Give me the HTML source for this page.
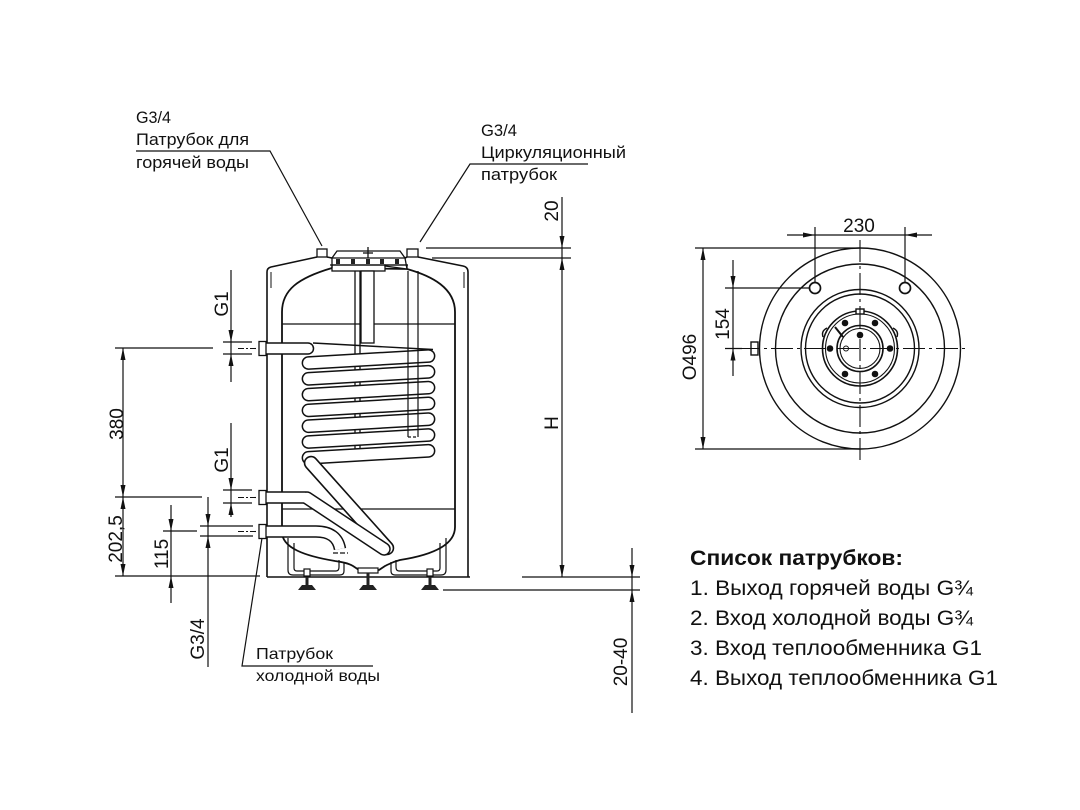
<!DOCTYPE html>
<html><head><meta charset="utf-8"><style>
html,body{margin:0;padding:0;background:#fff;}
svg{display:block;}
text{font-family:"Liberation Sans",Arial,sans-serif;fill:#111;}
</style></head><body>
<svg width="1080" height="810" viewBox="0 0 1080 810" xmlns="http://www.w3.org/2000/svg">
<rect width="1080" height="810" fill="#fff"/>

<!-- ===== TOP LABELS ===== -->
<g font-size="17">
<text x="136" y="123" textLength="35" lengthAdjust="spacingAndGlyphs">G3/4</text>
<text x="136" y="145" textLength="113" lengthAdjust="spacingAndGlyphs">Патрубок для</text>
<text x="136" y="168" textLength="113" lengthAdjust="spacingAndGlyphs">горячей воды</text>
<text x="481" y="136" textLength="36" lengthAdjust="spacingAndGlyphs">G3/4</text>
<text x="481" y="158" textLength="145" lengthAdjust="spacingAndGlyphs">Циркуляционный</text>
<text x="481" y="180" textLength="76" lengthAdjust="spacingAndGlyphs">патрубок</text>
</g>
<g stroke="#111" stroke-width="1.2" fill="none">
<polyline points="136,151 270,151 322,246"/>
<polyline points="588,164 470,164 420,242"/>
</g>

<!-- ===== TANK ===== -->
<g stroke="#111" fill="none" stroke-width="1.6" stroke-linejoin="round">
<path d="M267,577 L267,272 Q267,268 271,267 L317,257"/>
<path d="M418,257 L463,266 Q468,267 468,272 L468,577"/>
<line x1="267" y1="577" x2="470" y2="577"/>
<line x1="271" y1="272" x2="271" y2="288" stroke-width="1"/>
<line x1="464" y1="272" x2="464" y2="288" stroke-width="1"/>
<line x1="327" y1="257" x2="332" y2="258"/>
<line x1="405" y1="258" x2="407" y2="257"/>
<path d="M282,532 L282,312 C282,290 298,278 332,268 L407,269 C432,276 455,288 455,312 L455,527 C455,545 432,555 400,560 C392,562 389,564 385,566 L379,570 L359,570 L353,566 C348,563 342,562 335,561 C305,556 282,548 282,532 Z" stroke-width="1.8"/>
<line x1="282" y1="324" x2="455" y2="324" stroke-width="1.3"/>
<line x1="282" y1="509" x2="455" y2="509" stroke-width="1.3"/>
</g>

<!-- cover at top -->
<g stroke="#111" stroke-width="1.3" fill="#fff">
<path d="M332,258 L337,251 L400,251 L405,258 Z"/>
<rect x="332" y="265" width="53" height="6"/>
<path d="M385,266 L407,269 L407,265 L385,265 Z"/>
<line x1="330" y1="265" x2="408" y2="265"/>
<line x1="332" y1="258" x2="332" y2="268"/>
<line x1="405" y1="258" x2="407" y2="269"/>
<rect x="317" y="249" width="10" height="8"/>
<rect x="407" y="249" width="11" height="8"/>
<line x1="368" y1="247" x2="368" y2="258"/>
<line x1="363" y1="253" x2="373" y2="253"/>
</g>
<g fill="#222">
<rect x="336" y="259" width="4" height="5"/>
<rect x="351" y="259" width="4" height="5"/>
<rect x="366" y="259" width="4" height="5"/>
<rect x="380" y="259" width="4" height="5"/>
<rect x="395" y="259" width="4" height="5"/>
</g>

<!-- rods behind coils -->
<g stroke="#111" stroke-width="1.3" fill="none">
<line x1="355" y1="271" x2="355" y2="460"/>
<line x1="360" y1="271" x2="360" y2="460"/>
<rect x="361" y="271" width="13" height="72" fill="#fff"/>
</g>

<line x1="313" y1="343" x2="433" y2="349.5" stroke="#111" stroke-width="1.4"/>

<!-- coils -->
<g stroke-linecap="round" fill="none">
<g stroke="#111" stroke-width="13.8">
<line x1="308.5" y1="363" x2="428.5" y2="356"/>
<line x1="308.5" y1="378.8" x2="428.5" y2="371.8"/>
<line x1="308.5" y1="394.6" x2="428.5" y2="387.6"/>
<line x1="308.5" y1="410.4" x2="428.5" y2="403.4"/>
<line x1="308.5" y1="426.2" x2="428.5" y2="419.2"/>
<line x1="308.5" y1="442" x2="428.5" y2="435"/>
<line x1="308.5" y1="457.8" x2="428.5" y2="450.8"/>
</g>
<g stroke="#fff" stroke-width="10.8">
<line x1="308.5" y1="363" x2="428.5" y2="356"/>
<line x1="308.5" y1="378.8" x2="428.5" y2="371.8"/>
<line x1="308.5" y1="394.6" x2="428.5" y2="387.6"/>
<line x1="308.5" y1="410.4" x2="428.5" y2="403.4"/>
<line x1="308.5" y1="426.2" x2="428.5" y2="419.2"/>
<line x1="308.5" y1="442" x2="428.5" y2="435"/>
<line x1="308.5" y1="457.8" x2="428.5" y2="450.8"/>
</g>
<line x1="311" y1="463" x2="387" y2="548" stroke="#111" stroke-width="14.5"/>
<line x1="311" y1="463" x2="387" y2="548" stroke="#fff" stroke-width="11.3"/>
<line x1="265" y1="348.5" x2="308" y2="348.5" stroke="#111" stroke-width="12.5"/>
<line x1="265" y1="348.5" x2="308" y2="348.5" stroke="#fff" stroke-width="9.5"/>
<line x1="265" y1="497.5" x2="305" y2="497.5" stroke="#111" stroke-width="12.5"/>
<line x1="307" y1="498" x2="384" y2="549" stroke="#111" stroke-width="13.5"/>
<line x1="265" y1="497.5" x2="305" y2="497.5" stroke="#fff" stroke-width="9.5"/>
<line x1="307" y1="498" x2="384" y2="549" stroke="#fff" stroke-width="10.5"/>
<path d="M265,531.5 L316,531.5 Q337,531.5 340,549" stroke="#111" stroke-width="12.5" stroke-linecap="butt"/>
<path d="M265,531.5 L316,531.5 Q337,531.5 340,549" stroke="#fff" stroke-width="9.5" stroke-linecap="butt"/>
</g>
<line x1="333" y1="553" x2="348" y2="553" stroke="#111" stroke-width="1.3" stroke-dasharray="5 2"/>

<g stroke="#111" stroke-width="1.2" fill="none">
<line x1="408" y1="271" x2="408" y2="437"/>
<line x1="418" y1="271" x2="418" y2="437"/>
<line x1="408" y1="437" x2="418" y2="437" stroke-dasharray="3 2"/>
</g>

<g stroke="#111" stroke-width="1.3" fill="#fff">
<rect x="259" y="341.5" width="7" height="14"/>
<rect x="259" y="490.5" width="7" height="14"/>
<rect x="259" y="524.5" width="7" height="14"/>
</g>
<g stroke="#111" stroke-width="1.1" stroke-dasharray="6 2 2 2">
<line x1="238" y1="348.5" x2="258" y2="348.5"/>
<line x1="238" y1="497.5" x2="258" y2="497.5"/>
<line x1="238" y1="531.5" x2="258" y2="531.5"/>
</g>

<!-- skirts & feet -->
<g stroke="#111" stroke-width="1.2" fill="none">
<path d="M288,538 L288,570 Q288,575 293,575 L340,575 Q344,575 344,571 L344,562"/>
<path d="M294,543 L294,568 Q294,571 297,571 L336,571 Q339,571 339,567 L339,560"/>
<path d="M446,538 L446,570 Q446,575 441,575 L395,575 Q391,575 391,571 L391,562"/>
<path d="M440,543 L440,568 Q440,571 437,571 L399,571 Q396,571 396,567 L396,560"/>
<rect x="358" y="568" width="20" height="5" fill="#fff"/>
<rect x="304" y="569" width="6" height="7" fill="#fff"/>
<rect x="427" y="569" width="6" height="7" fill="#fff"/>
</g>
<g fill="#222">
<rect x="305.5" y="577" width="3" height="9"/>
<rect x="366.5" y="573" width="3" height="13"/>
<rect x="428.5" y="577" width="3" height="9"/>
<path d="M298,590 L316,590 L312,585 L302,585 Z"/>
<path d="M359,590 L377,590 L373,585 L363,585 Z"/>
<path d="M421,590 L439,590 L435,585 L425,585 Z"/>
</g>

<!-- ===== LEFT DIMENSIONS ===== -->
<g stroke="#111" stroke-width="1.2" fill="none">
<line x1="115" y1="348" x2="213" y2="348"/>
<line x1="115" y1="497" x2="202" y2="497"/>
<line x1="115" y1="576" x2="260" y2="576"/>
<line x1="163" y1="531" x2="197" y2="531"/>
<line x1="200" y1="526" x2="253" y2="526"/>
<line x1="200" y1="536" x2="253" y2="536"/>
<line x1="223" y1="342" x2="252" y2="342"/>
<line x1="223" y1="354" x2="252" y2="354"/>
<line x1="223" y1="490" x2="252" y2="490"/>
<line x1="223" y1="503" x2="252" y2="503"/>
<line x1="123" y1="348" x2="123" y2="576"/>
<line x1="171" y1="505" x2="171" y2="603"/>
<line x1="208" y1="497" x2="208" y2="667"/>
<line x1="231" y1="270" x2="231" y2="382"/>
<line x1="231" y1="423" x2="231" y2="517"/>
<polyline points="373,666 242,666 262,538"/>
</g>
<g fill="#111">
<polygon points="123,348 120.5,360 125.5,360"/>
<polygon points="123,497 120.5,485 125.5,485"/>
<polygon points="123,497 120.5,509 125.5,509"/>
<polygon points="123,576 120.5,564 125.5,564"/>
<polygon points="171,531 168.5,519 173.5,519"/>
<polygon points="171,576 168.5,588 173.5,588"/>
<polygon points="208,526 205.5,514 210.5,514"/>
<polygon points="208,536 205.5,548 210.5,548"/>
<polygon points="231,342 228.5,330 233.5,330"/>
<polygon points="231,354 228.5,366 233.5,366"/>
<polygon points="231,490 228.5,478 233.5,478"/>
<polygon points="231,503 228.5,515 233.5,515"/>
</g>
<g font-size="19" text-anchor="middle">
<text transform="translate(116,424) rotate(-90)" dy="0.36em">380</text>
<text transform="translate(115,539) rotate(-90)" dy="0.36em">202,5</text>
<text transform="translate(161,554) rotate(-90)" dy="0.36em">115</text>
<text transform="translate(197,639) rotate(-90)" dy="0.36em">G3/4</text>
<text transform="translate(221,304) rotate(-90)" dy="0.36em">G1</text>
<text transform="translate(221,460) rotate(-90)" dy="0.36em">G1</text>
</g>
<g font-size="16">
<text x="256" y="659" textLength="77" lengthAdjust="spacingAndGlyphs">Патрубок</text>
<text x="256" y="681" textLength="124" lengthAdjust="spacingAndGlyphs">холодной воды</text>
</g>

<!-- ===== RIGHT DIMENSIONS ===== -->
<g stroke="#111" stroke-width="1.2" fill="none">
<line x1="426" y1="248" x2="571" y2="248"/>
<line x1="432" y1="258" x2="571" y2="258"/>
<line x1="562" y1="197" x2="562" y2="577"/>
<line x1="522" y1="577" x2="640" y2="577"/>
<line x1="443" y1="590" x2="640" y2="590"/>
<line x1="632" y1="548" x2="632" y2="713"/>
</g>
<g fill="#111">
<polygon points="562,248 559.5,236 564.5,236"/>
<polygon points="562,258 559.5,270 564.5,270"/>
<polygon points="562,577 559.5,565 564.5,565"/>
<polygon points="632,577 629.5,565 634.5,565"/>
<polygon points="632,590 629.5,602 634.5,602"/>
</g>
<g font-size="19" text-anchor="middle">
<text transform="translate(551,211) rotate(-90)" dy="0.36em">20</text>
<text transform="translate(551,423) rotate(-90)" dy="0.36em">H</text>
<text transform="translate(620,662) rotate(-90)" dy="0.36em">20-40</text>
</g>

<!-- ===== TOP VIEW (circle) ===== -->
<g stroke="#111" stroke-width="1.4" fill="none">
<circle cx="860" cy="348.5" r="100.5"/>
<circle cx="860" cy="348.5" r="84.5"/>
<circle cx="860" cy="348.5" r="59"/>
<circle cx="860" cy="348.5" r="54.5"/>
<circle cx="860" cy="348.5" r="37.5" stroke-width="1.6"/>
<circle cx="860" cy="348.5" r="34.5" stroke-width="1.1"/>
<circle cx="860" cy="348.5" r="23" stroke-width="1.6"/>
<circle cx="860" cy="348.5" r="20" stroke-width="1.1"/>
<circle cx="815" cy="288" r="5.5" stroke-width="1.7"/>
<circle cx="905" cy="288" r="5.5" stroke-width="1.7"/>
<circle cx="846" cy="348.5" r="2.5" stroke-width="1"/>
<rect x="856" y="309" width="8" height="5" fill="#fff"/>
<path d="M823,337 Q821,331 827,328" />
<path d="M897,337 Q899,331 893,328" />
<line x1="835" y1="327" x2="843" y2="337" stroke-width="2"/>
<rect x="751" y="342" width="7" height="13" fill="#fff"/>
</g>
<g fill="#111">
<circle cx="845" cy="323" r="3.3"/>
<circle cx="875" cy="323" r="3.3"/>
<circle cx="830" cy="348.5" r="3.3"/>
<circle cx="890" cy="348.5" r="3.3"/>
<circle cx="845" cy="374" r="3.3"/>
<circle cx="875" cy="374" r="3.3"/>
<circle cx="860" cy="335" r="3.3"/>
</g>
<g stroke="#111" stroke-width="1.1" fill="none" stroke-dasharray="22 4 3 4">
<line x1="860" y1="240" x2="860" y2="460"/>
<line x1="738" y1="348.5" x2="968" y2="348.5"/>
</g>
<g stroke="#111" stroke-width="1.2" fill="none">
<line x1="787" y1="235" x2="932" y2="235"/>
<line x1="815" y1="227" x2="815" y2="282"/>
<line x1="905" y1="227" x2="905" y2="282"/>
<line x1="695" y1="248" x2="860" y2="248"/>
<line x1="695" y1="449" x2="860" y2="449"/>
<line x1="703" y1="248" x2="703" y2="449"/>
<line x1="725" y1="288" x2="809" y2="288"/>
<line x1="725" y1="348.5" x2="742" y2="348.5"/>
<line x1="733" y1="260" x2="733" y2="376"/>
</g>
<g fill="#111">
<polygon points="815,235 803,232.5 803,237.5"/>
<polygon points="905,235 917,232.5 917,237.5"/>
<polygon points="703,248 700.5,260 705.5,260"/>
<polygon points="703,449 700.5,437 705.5,437"/>
<polygon points="733,288 730.5,276 735.5,276"/>
<polygon points="733,348.5 730.5,360.5 735.5,360.5"/>
</g>
<g font-size="19" text-anchor="middle">
<text x="859" y="232">230</text>
<text transform="translate(689,357) rotate(-90)" dy="0.36em">O496</text>
<text transform="translate(722,324) rotate(-90)" dy="0.36em">154</text>
</g>

<!-- ===== LIST ===== -->
<text x="690" y="565" font-size="21" font-weight="bold" textLength="213" lengthAdjust="spacingAndGlyphs">Список патрубков:</text>
<g font-size="21">
<text x="690" y="595" textLength="283" lengthAdjust="spacingAndGlyphs">1. Выход горячей воды G¾</text>
<text x="690" y="625" textLength="283" lengthAdjust="spacingAndGlyphs">2. Вход холодной воды G¾</text>
<text x="690" y="655" textLength="292" lengthAdjust="spacingAndGlyphs">3. Вход теплообменника G1</text>
<text x="690" y="685" textLength="308" lengthAdjust="spacingAndGlyphs">4. Выход теплообменника G1</text>
</g>
</svg>
</body></html>
